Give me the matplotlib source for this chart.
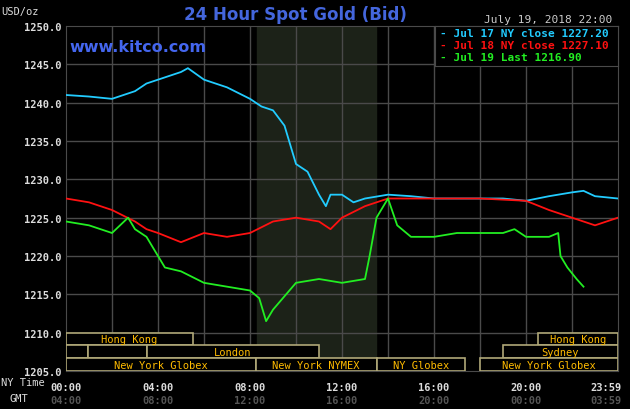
import numpy as np
import matplotlib.pyplot as plt
from matplotlib.patches import Rectangle

# ---- data (hours since 00:00 NY time, price USD/oz) ----
jul17_t = [0, 1, 2, 3, 3.5, 4, 5, 5.3, 6, 7, 8, 8.5, 9, 9.5, 10, 10.5, 11, 11.3, 11.5, 12, 12.5,
           13, 14, 15, 16, 17, 18, 19, 20, 21, 22, 22.5, 23, 24]
jul17_p = [1241, 1240.8, 1240.5, 1241.5, 1242.5, 1243, 1244, 1244.5, 1243, 1242, 1240.5, 1239.5,
           1239, 1237, 1232, 1231, 1228, 1226.5, 1228, 1228, 1227, 1227.5, 1228, 1227.8, 1227.5,
           1227.5, 1227.5, 1227.5, 1227.2, 1227.8, 1228.3, 1228.5, 1227.8, 1227.5]
jul18_t = [0, 1, 2, 3, 3.5, 4, 5, 6, 7, 8, 9, 10, 11, 11.5, 12, 13, 14, 15, 16, 18, 20, 21, 22, 23, 24]
jul18_p = [1227.5, 1227, 1226, 1224.5, 1223.5, 1223, 1221.8, 1223, 1222.5, 1223, 1224.5, 1225,
           1224.5, 1223.5, 1225, 1226.5, 1227.5, 1227.5, 1227.5, 1227.5, 1227.2, 1226, 1225, 1224, 1225]
jul19_t = [0, 1, 2, 2.7, 3, 3.5, 4, 4.3, 5, 6, 7, 8, 8.2, 8.4, 8.7, 9, 10, 11, 12, 13, 13.2, 13.5,
           14, 14.4, 15, 16, 17, 18, 19, 19.5, 20, 21, 21.4, 21.5, 21.8, 22.2, 22.5]
jul19_p = [1224.5, 1224, 1223, 1225, 1223.5, 1222.5, 1220, 1218.5, 1218, 1216.5, 1216, 1215.5,
           1215, 1214.5, 1211.5, 1213, 1216.5, 1217, 1216.5, 1217, 1220, 1225, 1227.5, 1224,
           1222.5, 1222.5, 1223, 1223, 1223, 1223.5, 1222.5, 1222.5, 1223, 1220, 1218.5, 1217, 1216]

legend_labels = ["Jul 17 NY close 1227.20", "Jul 18 NY close 1227.10", "Jul 19 Last 1216.90"]
ny_ticks = [0, 4, 8, 12, 16, 20, 24]
ny_labels = ["00:00", "04:00", "08:00", "12:00", "16:00", "20:00", "23:59"]
gmt_labels = ["04:00", "08:00", "12:00", "16:00", "20:00", "00:00", "03:59"]
# sessions: (row, start, end, label)
sessions = [(2, 0, 5.5, "Hong Kong"), (2, 20.5, 24, "Hong Kong"),
            (1, 0, 0.96, ""), (1, 0.96, 3.5, ""), (1, 3.5, 11, "London"), (1, 19, 24, "Sydney"),
            (0, 0, 8.25, "New York Globex"), (0, 8.25, 13.5, "New York NYMEX"),
            (0, 13.5, 17.35, "NY Globex"), (0, 18, 24, "New York Globex")]

mono = "DejaVu Sans Mono"
fig = plt.figure(figsize=(6.3, 4.1), dpi=100, facecolor="black")
ax = fig.add_axes([66/630, 38/410, 552/630, 345/410], facecolor="black")
ax.set_xlim(0, 24)
ax.set_ylim(1205, 1250)

ax.axvspan(8.3, 13.5, color="#1c2218", zorder=0)
for x in np.arange(2, 24, 2):
    ax.axvline(x, color="#4a4a4a", lw=1, zorder=1)
for y in np.arange(1210, 1250, 5):
    ax.axhline(y, color="#4a4a4a", lw=1, zorder=1)
for s in ax.spines.values():
    s.set_color("#4a4a4a")

ax.plot(jul17_t, jul17_p, color="#22ccff", lw=1.3, zorder=3)
ax.plot(jul18_t, jul18_p, color="#ff1111", lw=1.3, zorder=3)
ax.plot(jul19_t, jul19_p, color="#22ee22", lw=1.3, zorder=3)

h = 5 / 3
for row, a, b, lab in sessions:
    y0 = 1205 + row * h
    ax.add_patch(Rectangle((a, y0), b - a, h, fill=True, facecolor="black",
                           edgecolor="#b0a878", lw=1.2, zorder=4))
    if lab:
        ax.text((a + b) / 2, y0 + h / 2, lab, color="#ffbb00", fontsize=7.5, family=mono,
                ha="center", va="center", zorder=5)

ax.set_yticks(np.arange(1205, 1251, 5))
ax.set_yticklabels([f"{v:.1f}" for v in np.arange(1205, 1251, 5)])
ax.tick_params(axis="y", colors="#dddddd", labelsize=7.5, length=0, pad=3)
for t in ax.get_yticklabels():
    t.set_family(mono)
    t.set_weight("bold")
ax.set_xticks([])

for i, (x, l1, l2) in enumerate(zip(ny_ticks, ny_labels, gmt_labels)):
    ha = "right" if i == len(ny_ticks) - 1 else "center"
    xx = 24.15 if i == len(ny_ticks) - 1 else x
    ax.text(xx, -0.045, l1, transform=ax.get_xaxis_transform(), color="#dddddd", fontsize=7.5,
            family=mono, weight="bold", ha=ha, va="center")
    ax.text(xx, -0.085, l2, transform=ax.get_xaxis_transform(), color="#555555", fontsize=7.5,
            family=mono, weight="bold", ha=ha, va="center")
fig.text(1/630, 27/410, "NY Time", color="#dddddd", fontsize=7.5, family=mono, va="center")
fig.text(10/630, 11/410, "GMT", color="#dddddd", fontsize=7.5, family=mono, va="center")

# legend box
leg = ax.inset_axes([(435-66)/552, 1 - 40/345, 183/552, 40/345], facecolor="black")
leg.set_xticks([]); leg.set_yticks([])
for s in leg.spines.values():
    s.set_color("#4a4a4a")
for i, (lab, c) in enumerate(zip(legend_labels, ["#22ccff", "#ff1111", "#22ee22"])):
    leg.text(0.03, 0.83 - i * 0.3, "- " + lab, color=c, fontsize=8, family=mono,
             weight="bold", va="center", transform=leg.transAxes)

fig.text(295/630, 395/410, "24 Hour Spot Gold (Bid)", color="#4466dd", fontsize=12,
         weight="bold", ha="center", va="center")
fig.text(1/630, 398/410, "USD/oz", color="#dddddd", fontsize=7.5, family=mono, va="center")
fig.text(612/630, 390/410, "July 19, 2018 22:00", color="#cccccc", fontsize=8, family=mono,
         ha="right", va="center")
fig.text(69/630, 362/410, "www.kitco.com", color="#4466ee", fontsize=11.5, weight="bold",
         va="center")

plt.savefig("out.png", dpi=100, facecolor="black")
